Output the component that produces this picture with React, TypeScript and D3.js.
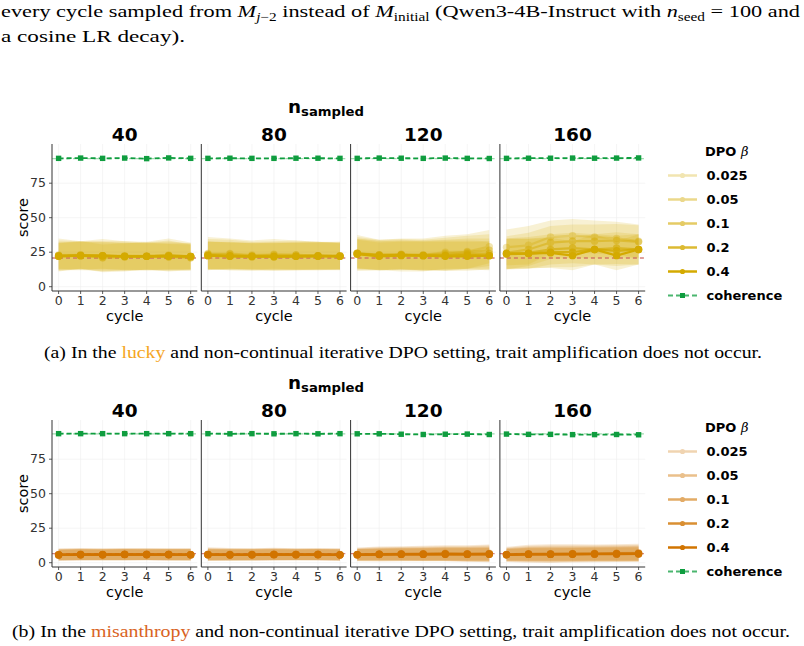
import * as d3 from "d3";

// facets, cycles and legend levels
const cycles = [0, 1, 2, 3, 4, 5, 6];
const nSampledLevels = ["40", "80", "120", "160"];
const betaLevels = ["0.025", "0.05", "0.1", "0.2", "0.4"];
const yTicks = [0, 25, 50, 75];

// lucky: mean score per beta (rows) per cycle
const luckyMean40 = [
  [23, 23, 22.5, 22, 22.5, 23, 22],
  [22.5, 23, 22, 22.5, 22, 22.5, 21.5],
  [22, 22.5, 21, 21.5, 22, 21.5, 21],
  [22.5, 22.5, 22.5, 22, 22, 22.5, 22],
  [22, 22.5, 22.5, 22, 22, 22, 22],
];
const luckyMean80 = [
  [24, 24, 23, 23.5, 23, 22.5, 22.5],
  [23.5, 23.5, 22.5, 23, 23, 22.5, 22],
  [23, 22, 21.5, 22, 22, 22, 22.5],
  [22.5, 22.5, 22, 21.5, 22, 22.5, 22],
  [22.5, 22, 22, 22, 22, 22, 22],
];
const luckyMean120 = [
  [24.5, 23, 23, 23, 25, 25.5, 29],
  [24, 23, 23.5, 23, 24, 25, 26.5],
  [24, 23, 23, 22.5, 23, 24, 24],
  [24, 22.5, 23, 22.5, 22.5, 23, 22.5],
  [23.5, 22, 22.5, 22.5, 22, 22, 22.5],
];
const luckyMean160 = [
  [28.5, 30, 36, 37, 36, 35, 33],
  [24.5, 27, 32, 33, 33, 33.5, 32.5],
  [24, 24.5, 27, 28, 27, 28, 27],
  [23.5, 24, 25, 25, 27, 26, 27],
  [24, 24, 24.5, 22.5, 27, 22.5, 27],
];
// lucky: band half-width (sd)
const luckySd40 = [
  [12, 10, 12, 11, 10, 12, 10],
  [11, 10, 11, 10.5, 10, 11, 9],
  [10, 10.5, 9.5, 10, 10, 9.5, 9.5],
  [9.5, 10, 10, 9.5, 10, 10, 9.5],
  [9.5, 10, 9.5, 10, 9.5, 9.5, 9.5],
];
const luckySd80 = [
  [12, 11, 10.5, 11, 10.5, 10, 10],
  [11, 10.5, 10, 10, 10.5, 10, 9.5],
  [10, 10, 10, 10, 10, 10, 10],
  [10, 10, 9.5, 10, 10, 10, 9.5],
  [10, 10, 10, 10, 10, 10, 10],
];
const luckySd120 = [
  [13, 11, 12, 12, 12, 12.5, 12],
  [12, 11, 11, 11, 11.5, 12, 11.5],
  [11, 10.5, 10.5, 11, 11, 11, 11],
  [10.5, 10.5, 10.5, 10.5, 11, 10.5, 10.5],
  [10.5, 10, 10, 10, 10.5, 10.5, 10],
];
const luckySd160 = [
  [13, 14, 12, 12, 12, 12, 12],
  [12, 12, 12, 12, 12, 12, 12],
  [11, 11.5, 11, 11, 11, 11.5, 11],
  [11, 11, 11, 11, 11, 11, 11],
  [11, 10.5, 11, 10.5, 11, 10.5, 11],
];
const luckyCoherence40 = [93, 93.2, 93, 93.2, 92.8, 93.3, 93];
const luckyCoherence80 = [93, 93.1, 93, 93, 93.1, 93.1, 93];
const luckyCoherence120 = [93, 93.2, 93.1, 93, 93.2, 93, 92.9];
const luckyCoherence160 = [93, 93.1, 93.1, 93.2, 93.1, 93.2, 93.3];
const luckyBaseline = 20.8;
const luckyCoherenceBaseline = 92.8;

// misanthropy
const misMean40 = [
  [6, 6.2, 6, 6.1, 6.2, 6, 6],
  [5.8, 6, 5.9, 6, 6, 5.9, 5.8],
  [5.6, 5.9, 5.8, 5.9, 5.9, 5.9, 5.8],
  [5.7, 5.8, 5.8, 6, 5.9, 5.8, 5.7],
  [5.6, 5.8, 5.8, 5.9, 5.8, 5.9, 5.8],
];
const misMean80 = [
  [6.2, 6, 6, 6.2, 6, 6.1, 5.9],
  [6, 5.9, 5.9, 6, 6, 6, 5.8],
  [5.9, 5.8, 5.8, 6, 5.9, 5.9, 5.7],
  [5.8, 5.7, 5.8, 5.9, 5.8, 5.9, 5.7],
  [5.8, 5.6, 5.7, 5.8, 5.8, 5.8, 5.6],
];
const misMean120 = [
  [6, 6.3, 6.5, 6.6, 6.8, 6.6, 6.8],
  [5.9, 6.2, 6.3, 6.4, 6.6, 6.4, 6.5],
  [5.8, 6.1, 6.2, 6.2, 6.4, 6.2, 6.3],
  [5.8, 6, 6.1, 6.1, 6.2, 6.1, 6.2],
  [5.7, 5.9, 6, 6, 6.1, 6, 6.1],
];
const misMean160 = [
  [6, 6.5, 6.6, 6.7, 6.8, 6.9, 7.2],
  [5.9, 6.3, 6.4, 6.5, 6.6, 6.7, 6.9],
  [5.8, 6.2, 6.2, 6.3, 6.4, 6.5, 6.6],
  [5.8, 6.1, 6.1, 6.2, 6.3, 6.4, 6.5],
  [5.7, 6, 6, 6.1, 6.2, 6.2, 6.3],
];
const misSd40 = [
  [4.5, 4.5, 4.4, 4.5, 4.4, 4.5, 4.6],
  [4.2, 4.3, 4.2, 4.3, 4.2, 4.3, 4.3],
  [4, 4.1, 4, 4.1, 4, 4.1, 4.1],
  [3.9, 4, 3.9, 4, 3.9, 4, 4],
  [3.8, 3.9, 3.8, 3.9, 3.8, 3.9, 3.9],
];
const misSd80 = [
  [5, 4.6, 4.5, 4.6, 4.4, 4.6, 4.5],
  [4.6, 4.4, 4.3, 4.4, 4.2, 4.3, 4.3],
  [4.2, 4.1, 4.1, 4.1, 4, 4.1, 4.1],
  [4, 4, 4, 4, 3.9, 4, 4],
  [3.9, 3.9, 3.9, 3.9, 3.8, 3.9, 3.9],
];
const misSd120 = [
  [5, 5.4, 5.5, 5.6, 5.8, 6, 6.4],
  [4.6, 5, 5.1, 5.2, 5.4, 5.6, 5.9],
  [4.3, 4.6, 4.7, 4.8, 5, 5.1, 5.3],
  [4.1, 4.3, 4.4, 4.5, 4.6, 4.7, 4.8],
  [4, 4.1, 4.2, 4.3, 4.4, 4.4, 4.5],
];
const misSd160 = [
  [5.5, 6.5, 6.8, 6.6, 6.4, 6.4, 6.5],
  [5, 5.8, 6, 5.9, 5.8, 5.9, 6],
  [4.6, 5.2, 5.4, 5.4, 5.3, 5.4, 5.5],
  [4.3, 4.8, 4.9, 4.9, 4.9, 5, 5.1],
  [4.1, 4.4, 4.5, 4.6, 4.6, 4.7, 4.8],
];
const misCoherence40 = [93.5, 93.5, 93.5, 93.5, 93.5, 93.5, 93.5];
const misCoherence80 = [93.5, 93.4, 93.5, 93.4, 93.5, 93.4, 93.5];
const misCoherence120 = [93.4, 93.4, 93.1, 92.9, 93.1, 93.2, 92.9];
const misCoherence160 = [93.2, 93, 93, 92.8, 92.8, 92.9, 92.7];
const misBaseline = 6.6;
const misCoherenceBaseline = 93.3;

const betaAlpha = [0.3, 0.45, 0.6, 0.8, 1];
const luckyColor = "#D4AA00";
const misColor = "#D17400";
const cohColor = "#0F9D3F";

// layout
const panelLeft = 52;
const panelW = 145.3;
const panelStep = 149.3;
const panelH = 147;
const sans = "DejaVu Sans";
const serif = "Liberation Serif";

const x = d3.scaleLinear().domain([-0.3, 6.3]).range([0, panelW]);
const y = d3.scaleLinear().domain([-3.12, 103.4]).range([panelH, 0]);

interface FigProps {
  top: number;
  means: number[][][];
  sds: number[][][];
  coherence: number[][];
  baseline: number;
  cohBaseline: number;
  color: string;
}

function Figure({ top, means, sds, coherence, baseline, cohBaseline, color }: FigProps) {
  const line = d3
    .line<number>()
    .x((_, i) => x(cycles[i]))
    .y((d) => y(d));

  return (
    <g>
      {/* n_sampled strip title */}
      <text x={288} y={top - 31.5} fontFamily={sans} fontWeight="bold" textLength={76} lengthAdjust="spacingAndGlyphs">
        <tspan fontSize={18}>n</tspan>
        <tspan fontSize={13} dy={3}>
          sampled
        </tspan>
      </text>
      {nSampledLevels.map((lab, p) => {
        const px = panelLeft + p * panelStep;
        return (
          <g key={lab} transform={`translate(${px},${top})`}>
            <text x={panelW / 2} y={-3} textAnchor="middle" fontFamily={sans} fontWeight="bold" fontSize={18.5}>
              {lab}
            </text>
            {/* grid */}
            {cycles.map((c) => (
              <line key={c} x1={x(c)} x2={x(c)} y1={0} y2={panelH} stroke="#efefef" strokeWidth={0.6} />
            ))}
            {yTicks.map((t) => (
              <line key={t} x1={0} x2={panelW} y1={y(t)} y2={y(t)} stroke="#efefef" strokeWidth={0.6} />
            ))}
            {/* bands */}
            {means[p].map((m, b) => (
              <path
                key={b}
                d={
                  d3
                    .area<number>()
                    .x((_, i) => x(cycles[i]))
                    .y0((d, i) => y(d - sds[p][b][i]))
                    .y1((d, i) => y(d + sds[p][b][i]))(m) ?? ""
                }
                fill={color}
                fillOpacity={0.17}
              />
            ))}
            {/* reference lines */}
            <line x1={0} x2={panelW} y1={y(cohBaseline)} y2={y(cohBaseline)} stroke="#9fdcae" strokeWidth={1.2} strokeDasharray="4,3" />
            <line x1={0} x2={panelW} y1={y(baseline)} y2={y(baseline)} stroke="#c9605a" strokeOpacity={0.8} strokeWidth={1.3} strokeDasharray="4,3" />
            {/* beta series */}
            {means[p].map((m, b) => (
              <g key={b} opacity={betaAlpha[b]}>
                <path d={line(m) ?? ""} fill="none" stroke={color} strokeWidth={2.2} />
                {m.map((v, i) => (
                  <circle key={i} cx={x(cycles[i])} cy={y(v)} r={3.7} fill={color} />
                ))}
              </g>
            ))}
            {/* coherence */}
            <path d={line(coherence[p]) ?? ""} fill="none" stroke={cohColor} strokeWidth={1.8} strokeDasharray="5,3" />
            {coherence[p].map((v, i) => (
              <rect key={i} x={x(cycles[i]) - 2.7} y={y(v) - 2.7} width={5.4} height={5.4} fill={cohColor} />
            ))}
            {/* axes */}
            <line x1={0} x2={0} y1={0} y2={panelH} stroke="#333" strokeWidth={1} />
            <line x1={0} x2={panelW} y1={panelH} y2={panelH} stroke="#333" strokeWidth={1} />
            {cycles.map((c) => (
              <g key={c}>
                <line x1={x(c)} x2={x(c)} y1={panelH} y2={panelH + 3} stroke="#333" strokeWidth={0.8} />
                <text x={x(c)} y={panelH + 14} textAnchor="middle" fontFamily={sans} fontSize={12.5} fill="#333">
                  {c}
                </text>
              </g>
            ))}
            <text x={panelW / 2} y={panelH + 29.5} textAnchor="middle" fontFamily={sans} fontSize={14.5} fill="#000">
              cycle
            </text>
            {p === 0 &&
              yTicks.map((t) => (
                <g key={t}>
                  <line x1={-3} x2={0} y1={y(t)} y2={y(t)} stroke="#333" strokeWidth={0.8} />
                  <text x={-6} y={y(t) + 4.3} textAnchor="end" fontFamily={sans} fontSize={12.5} fill="#333">
                    {t}
                  </text>
                </g>
              ))}
          </g>
        );
      })}
      <text
        transform={`translate(28,${top + panelH / 2}) rotate(-90)`}
        textAnchor="middle"
        fontFamily={sans}
        fontSize={14.5}
      >
        score
      </text>
      {/* legend */}
      <g transform={`translate(0,${top})`}>
        <text x={705} y={12} fontFamily={sans} fontWeight="bold" fontSize={13}>
          DPO <tspan fontStyle="italic" fontWeight="normal" fontFamily="DejaVu Serif">β</tspan>
        </text>
        {betaLevels.map((lab, b) => {
          const ly = 31.5 + b * 24;
          return (
            <g key={lab} opacity={betaAlpha[b]}>
              <line x1={668} x2={697} y1={ly} y2={ly} stroke={color} strokeWidth={2.5} />
              <circle cx={682.5} cy={ly} r={2.6} fill={color} />
            </g>
          );
        })}
        {betaLevels.map((lab, b) => (
          <text key={lab} x={706.5} y={31.5 + b * 24 + 4.7} fontFamily={sans} fontWeight="bold" fontSize={13}>
            {lab}
          </text>
        ))}
        <line x1={668} x2={697} y1={151.5} y2={151.5} stroke={cohColor} strokeOpacity={0.75} strokeWidth={2} strokeDasharray="5,3" />
        <rect x={680} y={149} width={5} height={5} fill={cohColor} />
        <text x={706.5} y={156.2} fontFamily={sans} fontWeight="bold" fontSize={13}>
          coherence
        </text>
      </g>
    </g>
  );
}

export default function App() {
  const luckyMeans = [luckyMean40, luckyMean80, luckyMean120, luckyMean160];
  const luckySds = [luckySd40, luckySd80, luckySd120, luckySd160];
  const luckyCoh = [luckyCoherence40, luckyCoherence80, luckyCoherence120, luckyCoherence160];
  const misMeans = [misMean40, misMean80, misMean120, misMean160];
  const misSds = [misSd40, misSd80, misSd120, misSd160];
  const misCoh = [misCoherence40, misCoherence80, misCoherence120, misCoherence160];

  return (
    <svg width={804} height={646} style={{ position: "absolute", left: 0, top: 0, background: "#fff" }}>
      <rect width={804} height={646} fill="#fff" />
      {/* running paper text */}
      <text x={1} y={17} fontFamily={serif} fontSize={17.5} textLength={799} lengthAdjust="spacingAndGlyphs">
        {"every cycle sampled from "}
        <tspan fontStyle="italic">M</tspan>
        <tspan fontSize={12} dy={4} fontStyle="italic">j</tspan>
        <tspan fontSize={12}>−2</tspan>
        <tspan dy={-4}>{" instead of "}</tspan>
        <tspan fontStyle="italic">M</tspan>
        <tspan fontSize={12} dy={4}>initial</tspan>
        <tspan dy={-4}>{" (Qwen3-4B-Instruct with "}</tspan>
        <tspan fontStyle="italic">n</tspan>
        <tspan fontSize={12} dy={4}>seed</tspan>
        <tspan dy={-4}>{" = 100 and"}</tspan>
      </text>
      <text x={1} y={42} fontFamily={serif} fontSize={17.5} textLength={184} lengthAdjust="spacingAndGlyphs">
        a cosine LR decay).
      </text>

      <Figure
        top={144}
        means={luckyMeans}
        sds={luckySds}
        coherence={luckyCoh}
        baseline={luckyBaseline}
        cohBaseline={luckyCoherenceBaseline}
        color={luckyColor}
      />
      <text x={44} y={358} fontFamily={serif} fontSize={17.5} textLength={718} lengthAdjust="spacingAndGlyphs">
        {"(a) In the "}
        <tspan fill="#F5A623">lucky</tspan>
        {" and non-continual iterative DPO setting, trait amplification does not occur."}
      </text>

      <Figure
        top={420}
        means={misMeans}
        sds={misSds}
        coherence={misCoh}
        baseline={misBaseline}
        cohBaseline={misCoherenceBaseline}
        color={misColor}
      />
      <text x={12} y={637} fontFamily={serif} fontSize={17.5} textLength={778} lengthAdjust="spacingAndGlyphs">
        {"(b) In the "}
        <tspan fill="#D9631E">misanthropy</tspan>
        {" and non-continual iterative DPO setting, trait amplification does not occur."}
      </text>
    </svg>
  );
}
